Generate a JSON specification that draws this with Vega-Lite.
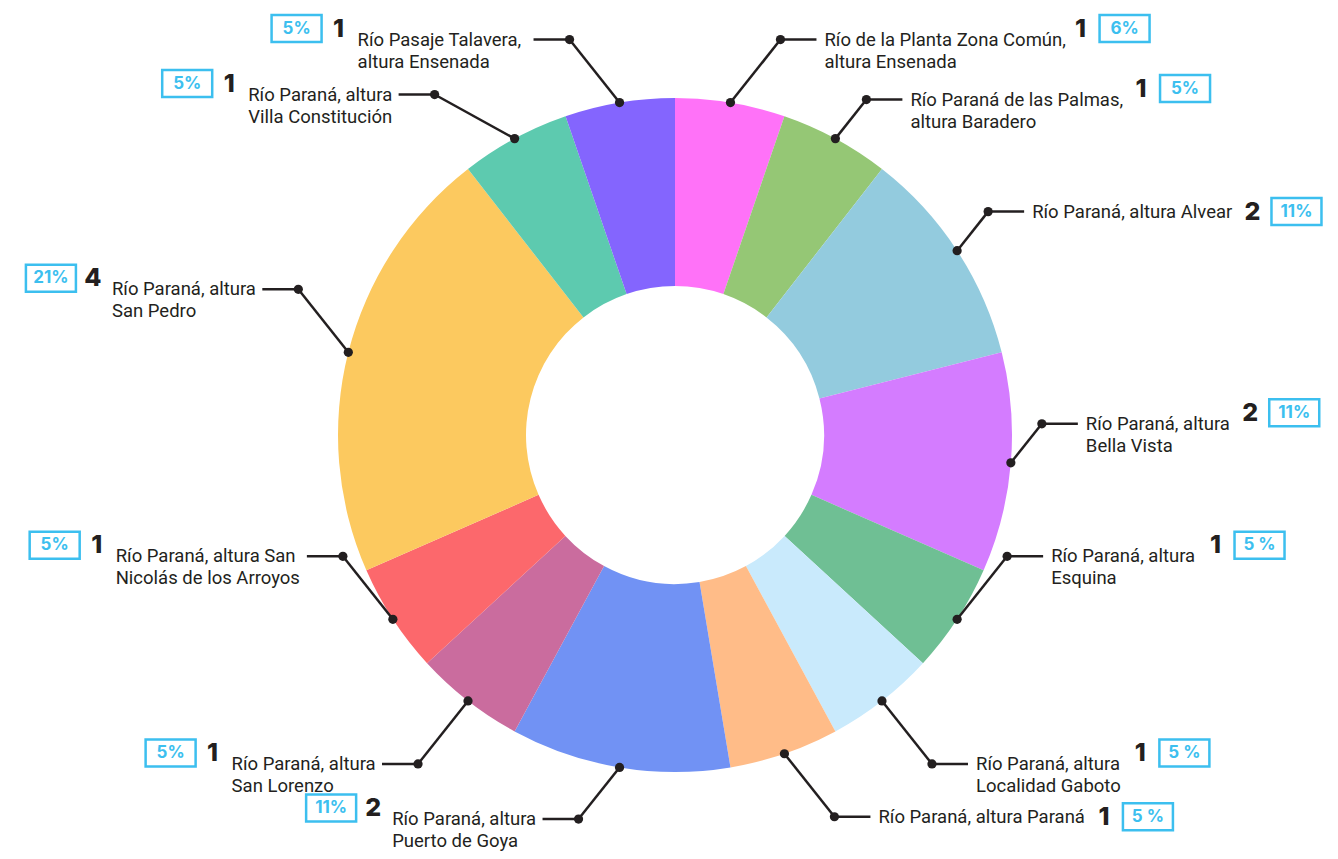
{
  "$schema": "https://vega.github.io/schema/vega-lite/v6.json",
  "width": 1338,
  "height": 859,
  "autosize": {"type": "none"},
  "padding": 0,
  "background": "white",
  "view": {"stroke": null},
  "data": {
    "values": [
      {"sitio": "Río de la Planta Zona Común, altura Ensenada", "etiqueta": ["Río de la Planta Zona Común,", "altura Ensenada"], "n": 1, "pct": "6%"},
      {"sitio": "Río Paraná de las Palmas, altura Baradero", "etiqueta": ["Río Paraná de las Palmas,", "altura Baradero"], "n": 1, "pct": "5%"},
      {"sitio": "Río Paraná, altura Alvear", "etiqueta": ["Río Paraná, altura Alvear"], "n": 2, "pct": "11%"},
      {"sitio": "Río Paraná, altura Bella Vista", "etiqueta": ["Río Paraná, altura", "Bella Vista"], "n": 2, "pct": "11%"},
      {"sitio": "Río Paraná, altura Esquina", "etiqueta": ["Río Paraná, altura", "Esquina"], "n": 1, "pct": "5 %"},
      {"sitio": "Río Paraná, altura Localidad Gaboto", "etiqueta": ["Río Paraná, altura", "Localidad Gaboto"], "n": 1, "pct": "5 %"},
      {"sitio": "Río Paraná, altura Paraná", "etiqueta": ["Río Paraná, altura Paraná"], "n": 1, "pct": "5 %"},
      {"sitio": "Río Paraná, altura Puerto de Goya", "etiqueta": ["Río Paraná, altura", "Puerto de Goya"], "n": 2, "pct": "11%"},
      {"sitio": "Río Paraná, altura San Lorenzo", "etiqueta": ["Río Paraná, altura", "San Lorenzo"], "n": 1, "pct": "5%"},
      {"sitio": "Río Paraná, altura San Nicolás de los Arroyos", "etiqueta": ["Río Paraná, altura San", "Nicolás de los Arroyos"], "n": 1, "pct": "5%"},
      {"sitio": "Río Paraná, altura San Pedro", "etiqueta": ["Río Paraná, altura", "San Pedro"], "n": 4, "pct": "21%"},
      {"sitio": "Río Paraná, altura Villa Constitución", "etiqueta": ["Río Paraná, altura", "Villa Constitución"], "n": 1, "pct": "5%"},
      {"sitio": "Río Pasaje Talavera, altura Ensenada", "etiqueta": ["Río Pasaje Talavera,", "altura Ensenada"], "n": 1, "pct": "5%"}
    ]
  },
  "transform": [
    {"joinaggregate": [{"op": "sum", "field": "n", "as": "total"}]},
    {"window": [{"op": "sum", "field": "n", "as": "cum"}], "frame": [null, 0]},
    {"calculate": "2*PI*(datum.cum - datum.n)/datum.total", "as": "a0"},
    {"calculate": "2*PI*datum.cum/datum.total", "as": "a1"},
    {"calculate": "(datum.a0 + datum.a1)/2", "as": "am"},
    {"calculate": "sin(datum.am) >= 0 ? 1 : -1", "as": "lado"},
    {"calculate": "337*sin(datum.am)", "as": "px"},
    {"calculate": "-337*cos(datum.am)", "as": "py"},
    {"calculate": "cos(datum.am) > -0.7 ? -1 : 1", "as": "vy"},
    {"calculate": "(datum.lado > 0 && cos(datum.am) > -0.3 && cos(datum.am) < 0.95) ? 0.62 : (cos(datum.am) < -0.95 ? 0.82 : ((datum.lado < 0 && cos(datum.am) > 0.5 && cos(datum.am) < 0.95) ? 1.6 : 1))", "as": "kx"},
    {"calculate": "(datum.lado > 0 && cos(datum.am) > -0.3 && cos(datum.am) < 0.95) ? 0.62 : (cos(datum.am) < -0.95 ? 0.82 : ((datum.lado < 0 && cos(datum.am) > 0.5 && cos(datum.am) < 0.95) ? 0.7 : 1))", "as": "ky"},
    {"calculate": "datum.px + datum.lado*50*datum.kx", "as": "ex"},
    {"calculate": "datum.py + datum.vy*63*datum.ky", "as": "ey"},
    {"calculate": "datum.ex + datum.lado*36", "as": "hx"},
    {"calculate": "datum.ex + datum.lado*44", "as": "tx"},
    {"calculate": "datum.etiqueta[0]", "as": "t1"},
    {"calculate": "length(datum.etiqueta) > 1 ? datum.etiqueta[1] : ''", "as": "t2"},
    {"calculate": "length(replace(datum.t1, regexp('[^iíltfrj,. ]', 'g'), ''))", "as": "n1"},
    {"calculate": "length(replace(datum.t2, regexp('[^iíltfrj,. ]', 'g'), ''))", "as": "n2"},
    {"calculate": "10.2*(length(datum.t1) - datum.n1) + 5.05*datum.n1", "as": "w1"},
    {"calculate": "10.2*(length(datum.t2) - datum.n2) + 5.05*datum.n2", "as": "w2"},
    {"calculate": "datum.lado > 0 ? datum.tx : datum.tx - max(datum.w1, datum.w2)", "as": "sx"},
    {"calculate": "length(datum.etiqueta) > 1 ? datum.ey - 11 : datum.ey", "as": "ly"},
    {"calculate": "datum.lado > 0 ? datum.tx + datum.w1 + 22 : datum.sx - 19", "as": "nx"},
    {"calculate": "datum.lado > 0 ? datum.nx + 44 : datum.nx - 42", "as": "bx"}
  ],
  "layer": [
    {
      "mark": {"type": "arc", "outerRadius": 337, "innerRadius": 149, "stroke": null},
      "encoding": {
        "x": {"datum": 0, "type": "quantitative", "scale": {"domain": [-675, 663], "nice": false, "zero": false}, "axis": null},
        "y": {"datum": 0, "type": "quantitative", "scale": {"domain": [-435, 424], "nice": false, "zero": false, "reverse": true}, "axis": null},
        "theta": {"field": "a0", "type": "quantitative", "stack": null, "scale": {"domain": [0, 6.283185307179586], "range": [0, 6.283185307179586], "zero": false, "nice": false}},
        "theta2": {"field": "a1"},
        "color": {
          "field": "sitio",
          "type": "nominal",
          "legend": null,
          "scale": {
            "domain": [
              "Río de la Planta Zona Común, altura Ensenada",
              "Río Paraná de las Palmas, altura Baradero",
              "Río Paraná, altura Alvear",
              "Río Paraná, altura Bella Vista",
              "Río Paraná, altura Esquina",
              "Río Paraná, altura Localidad Gaboto",
              "Río Paraná, altura Paraná",
              "Río Paraná, altura Puerto de Goya",
              "Río Paraná, altura San Lorenzo",
              "Río Paraná, altura San Nicolás de los Arroyos",
              "Río Paraná, altura San Pedro",
              "Río Paraná, altura Villa Constitución",
              "Río Pasaje Talavera, altura Ensenada"
            ],
            "range": ["#FF72F8", "#95C775", "#93CBDE", "#D47CFF", "#6FBF94", "#C9EAFC", "#FFBC88", "#7192F4", "#CA6C9E", "#FC686C", "#FCC95F", "#5DCAAF", "#8465FE"]
          }
        }
      }
    },
    {
      "mark": {"type": "rule", "color": "#231F20", "strokeWidth": 2.5},
      "encoding": {
        "x": {"field": "px", "type": "quantitative"},
        "y": {"field": "py", "type": "quantitative"},
        "x2": {"field": "ex"},
        "y2": {"field": "ey"}
      }
    },
    {
      "mark": {"type": "rule", "color": "#231F20", "strokeWidth": 2.5},
      "encoding": {
        "x": {"field": "ex", "type": "quantitative"},
        "y": {"field": "ey", "type": "quantitative"},
        "x2": {"field": "hx"}
      }
    },
    {
      "mark": {"type": "point", "filled": true, "size": 85, "color": "#231F20", "opacity": 1},
      "encoding": {
        "x": {"field": "px", "type": "quantitative"},
        "y": {"field": "py", "type": "quantitative"}
      }
    },
    {
      "mark": {"type": "point", "filled": true, "size": 85, "color": "#231F20", "opacity": 1},
      "encoding": {
        "x": {"field": "ex", "type": "quantitative"},
        "y": {"field": "ey", "type": "quantitative"}
      }
    },
    {
      "mark": {"type": "text", "align": "left", "baseline": "middle", "font": "Roboto", "fontSize": 18.5, "lineHeight": 22, "color": "#231F20"},
      "encoding": {
        "x": {"field": "sx", "type": "quantitative"},
        "y": {"field": "ey", "type": "quantitative"},
        "text": {"field": "etiqueta"}
      }
    },
    {
      "mark": {"type": "text", "align": "center", "baseline": "middle", "font": "Inter", "fontSize": 25, "fontWeight": 800, "color": "#231F20"},
      "encoding": {
        "x": {"field": "nx", "type": "quantitative"},
        "y": {"field": "ly", "type": "quantitative"},
        "text": {"field": "n", "type": "quantitative"}
      }
    },
    {
      "mark": {"type": "point", "shape": "M-1,-0.54H1V0.54H-1Z", "size": 2500, "filled": false, "stroke": "#3CBFEF", "strokeWidth": 2.5, "opacity": 1},
      "encoding": {
        "x": {"field": "bx", "type": "quantitative"},
        "y": {"field": "ly", "type": "quantitative"}
      }
    },
    {
      "mark": {"type": "text", "align": "center", "baseline": "middle", "font": "Inter", "fontSize": 17, "fontWeight": 700, "color": "#3CBFEF"},
      "encoding": {
        "x": {"field": "bx", "type": "quantitative"},
        "y": {"field": "ly", "type": "quantitative"},
        "text": {"field": "pct"}
      }
    }
  ]
}
